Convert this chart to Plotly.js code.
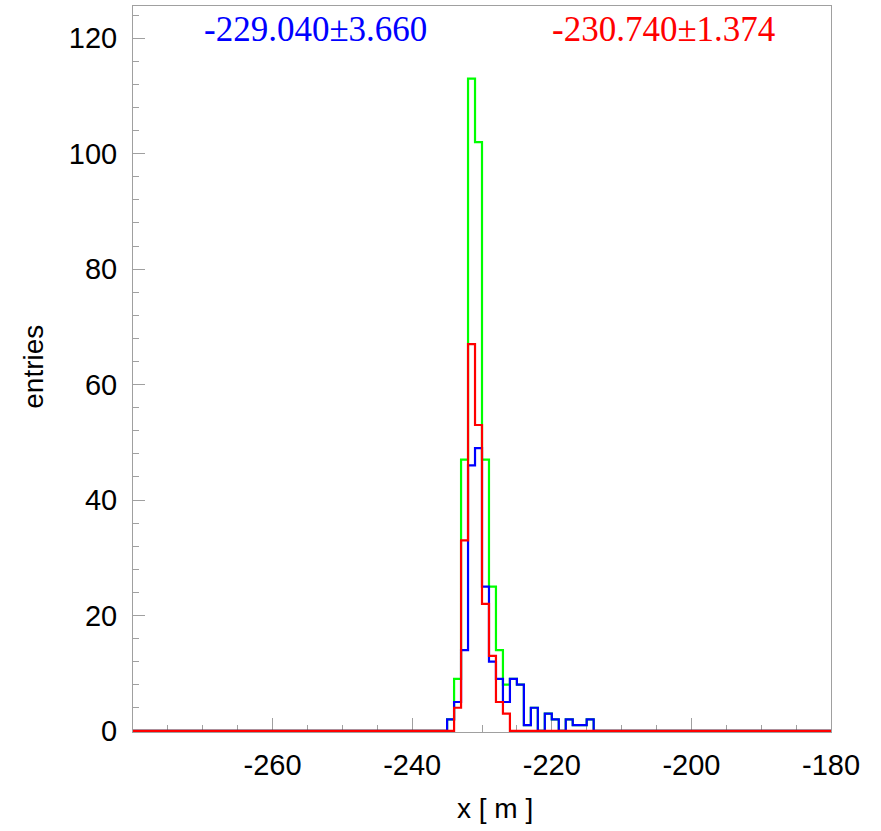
<!DOCTYPE html>
<html>
<head>
<meta charset="utf-8">
<script src="https://cdn.plot.ly/plotly-3.0.1.min.js"></script>
<style>
  html, body { margin: 0; padding: 0; background: #fff; }
  #plot { width: 881px; height: 831px; }
</style>
</head>
<body>
<div id="plot"></div>
<script>
// Histogram binning: 1 m bins from -280 m to -180 m
const xMin = -280;
const xMax = -180;
const binWidth = 1;

// Bin counts starting at the bin [-235, -234); all other bins are empty
const firstFilledBin = -235;
const countsBlue = [2, 5, 14, 46, 49, 25, 12, 9, 5, 9, 8, 1, 4, 0, 3, 2, 0, 2, 1, 1, 2];
const countsRed  = [0, 4, 33, 67, 53, 22, 13, 5, 3, 0, 0, 0, 0, 0, 0, 0, 0, 0, 0, 0, 0];
// Sum of both samples
const countsGreen = [2, 9, 47, 113, 102, 47, 25, 14, 8, 9, 8, 1, 4, 0, 3, 2, 0, 2, 1, 1, 2];

// Fit results printed above the plot
const labelBlue = "-229.040\u00b13.660";
const labelRed  = "-230.740\u00b11.374";

// Tick labels
const xTickVals = [-260, -240, -220, -200, -180];
const xTickText = ["-260", "-240", "-220", "-200", "-180"];
const yTickVals = [0, 20, 40, 60, 80, 100, 120];
const yTickText = ["0", "20", "40", "60", "80", "100", "120"];

// Expand a partial count list into the full histogram and build the step outline
function stepOutline(counts) {
  const nBins = Math.round((xMax - xMin) / binWidth);
  const offset = Math.round((firstFilledBin - xMin) / binWidth);
  const full = new Array(nBins).fill(0);
  counts.forEach((c, i) => { full[offset + i] = c; });
  const xs = [], ys = [];
  for (let i = 0; i < nBins; i++) {
    xs.push(xMin + i * binWidth);
    ys.push(full[i]);
  }
  xs.push(xMax);
  ys.push(full[nBins - 1]);
  return { x: xs, y: ys };
}

function histTrace(counts, color) {
  const s = stepOutline(counts);
  return {
    type: 'scatter', mode: 'lines',
    x: s.x, y: s.y,
    line: { shape: 'hv', color: color, width: 2.2 },
    hoverinfo: 'skip', showlegend: false, cliponaxis: false
  };
}

const traces = [
  histTrace(countsGreen, '#00ff00'),
  histTrace(countsBlue, '#0000ff'),
  histTrace(countsRed, '#ff0000')
];

const axisFont = { family: 'Liberation Sans, Arial, sans-serif', size: 29, color: '#000' };
const frameColor = '#a0a0a0';

const layout = {
  width: 881, height: 831,
  paper_bgcolor: '#fff', plot_bgcolor: '#fff',
  margin: { l: 133, r: 50, t: 6, b: 99, pad: 0 },
  showlegend: false,
  xaxis: {
    range: [xMin, xMax],
    tickmode: 'array', tickvals: xTickVals, ticktext: xTickText,
    ticks: 'inside', ticklen: 14, tickwidth: 1, tickcolor: frameColor,
    minor: { dtick: 5, ticks: 'inside', ticklen: 7, tickwidth: 1, tickcolor: frameColor },
    showline: true, linecolor: frameColor, linewidth: 1, mirror: true,
    showgrid: false, zeroline: false, layer: 'below traces',
    tickfont: axisFont, ticklabelstandoff: 7
  },
  yaxis: {
    range: [-0.2, 125.6],
    tickmode: 'array', tickvals: yTickVals, ticktext: yTickText,
    ticks: 'inside', ticklen: 12, tickwidth: 1, tickcolor: frameColor,
    minor: { dtick: 4, ticks: 'inside', ticklen: 6, tickwidth: 1, tickcolor: frameColor },
    showline: true, linecolor: frameColor, linewidth: 1, mirror: true,
    showgrid: false, zeroline: false, layer: 'below traces',
    tickfont: axisFont, ticklabelstandoff: 9
  },
  annotations: [
    { text: labelBlue, xref: 'paper', yref: 'paper', x: 0.262, y: 0.967,
      xanchor: 'center', yanchor: 'middle', showarrow: false,
      font: { family: 'Liberation Serif, Times New Roman, serif', size: 35, color: '#0000ff' } },
    { text: labelRed, xref: 'paper', yref: 'paper', x: 0.760, y: 0.967,
      xanchor: 'center', yanchor: 'middle', showarrow: false,
      font: { family: 'Liberation Serif, Times New Roman, serif', size: 35, color: '#ff0000' } },
    // axis titles
    { text: 'x [ m ]', xref: 'paper', yref: 'paper', x: 0.519, y: -0.106,
      xanchor: 'center', yanchor: 'middle', showarrow: false,
      font: { family: 'Liberation Sans, Arial, sans-serif', size: 28, color: '#000' } },
    { text: 'entries', xref: 'paper', yref: 'paper', x: -0.142, y: 0.503,
      xanchor: 'center', yanchor: 'middle', showarrow: false, textangle: -90,
      font: { family: 'Liberation Sans, Arial, sans-serif', size: 28, color: '#000' } }
  ]
};

Plotly.newPlot('plot', traces, layout, { displayModeBar: false, staticPlot: true });
</script>
</body>
</html>
